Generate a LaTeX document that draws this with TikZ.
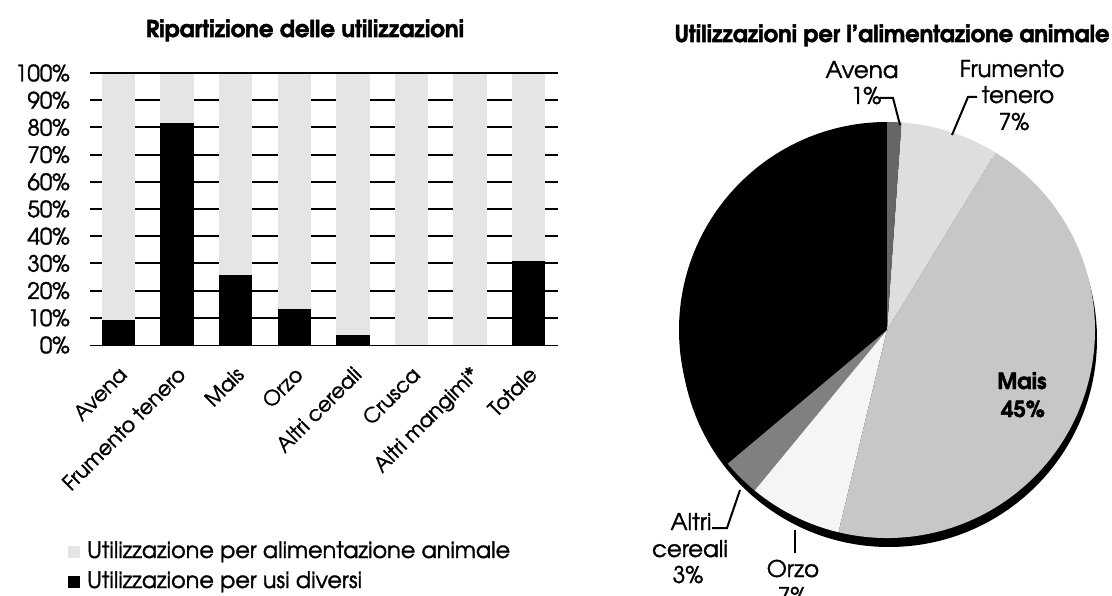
\documentclass[tikz,border=0pt]{standalone}
\usepackage{fontspec}
\setmainfont{texgyreadventor}[Extension=.otf,UprightFont=*-regular,BoldFont=*-bold,UprightFeatures={FakeBold=1.4},BoldFeatures={FakeBold=2.2}]
\usepackage{graphicx}
\newlength\legwidth
\begin{document}
\settowidth\legwidth{\fontsize{22.5}{22.5}\selectfont Utilizzazione per alimentazione animale}
\pgfmathsetmacro\legscale{423/\legwidth}
\begin{tikzpicture}[x=1pt,y=-1pt,
  ylab/.style={anchor=east, inner sep=0pt, font=\fontsize{22.5}{22.5}\selectfont},
  catlab/.style={anchor=north east, rotate=45, inner sep=0pt, font=\fontsize{20.5}{20.5}\selectfont},
  pielab/.style={anchor=base, inner sep=0pt, font=\fontsize{23}{23}\selectfont},
  piebold/.style={anchor=base, inner sep=0pt, font=\bfseries\fontsize{22}{22}\selectfont},
  legtext/.style={anchor=base west, inner sep=0pt, font=\fontsize{22.5}{22.5}\selectfont},
  titletext/.style={anchor=base, inner sep=0pt, font=\bfseries\fontsize{23}{23}\selectfont},
  gridline/.style={line width=2pt},
  leader/.style={line width=2pt},
  darkbar/.style={fill=black},
  lightbar/.style={fill=black!10},
]
\useasboundingbox (0,0) rectangle (1112,596);

% ---------- left chart ----------
\node[titletext] (t1) at (305,37) {\resizebox{318pt}{\height}{Ripartizione delle utilizzazioni}};

\foreach \k in {1,...,9} {
  \draw[gridline] (90,345-27.2*\k) -- (558,345-27.2*\k);
}
\foreach \i/\v in {0/9.3,1/81.6,2/25.8,3/13.4,4/3.6,5/0,6/0,7/31} {
  \pgfmathsetmacro{\cx}{118.5+58.6*\i}
  \fill[lightbar] (\cx-16.75,73) rectangle (\cx+16.75,345-2.72*\v);
  \fill[darkbar] (\cx-16.75,345-2.72*\v) rectangle (\cx+16.75,345);
}
\draw[line width=1.4pt] (90,73) -- (558,73);
\draw[line width=1pt] (90,345) -- (558,345);

\foreach \k in {0,...,10} {
  \pgfmathtruncatemacro{\p}{10*\k}
  \node[ylab] (y\k) at (70,345-27.2*\k) {\p\%};
}

\foreach \i/\t in {0/Avena,1/Frumento tenero,2/Mais,3/Orzo,4/Altri cereali,5/Crusca,6/Altri mangimi*,7/Totale} {
  \pgfmathsetmacro{\cx}{118.5+58.6*\i}
  \node[catlab] (c\i) at (\cx-1,365) {\t};
}

% legend
\fill[black!10] (68,546) rectangle (80,558);
\fill[black] (68,576) rectangle (80,588);
\node[legtext] (l1) at (87,558) {\scalebox{\legscale}[1]{Utilizzazione per alimentazione animale}};
\node[legtext] (l2) at (87,588) {\scalebox{\legscale}[1]{Utilizzazione per usi diversi}};

% ---------- pie chart ----------
\node[titletext] (t2) at (892,42) {\resizebox{435pt}{\height}{Utilizzazioni per l'alimentazione animale}};

\begin{scope}[shift={(887,330)}, yscale=-1]
  \fill[black] (2,-9) circle[radius=208];
  \fill[black] (0,0) -- (90:208) arc[start angle=90,end angle=220,radius=208] -- cycle;
  \fill[black!50] (0,0) -- (220:208) arc[start angle=220,end angle=230.5,radius=208] -- cycle;
  \fill[black!4] (0,0) -- (230.5:208) arc[start angle=230.5,end angle=256.5,radius=208] -- cycle;
  \fill[black!22] (0,0) -- (256.5:208) arc[start angle=256.5,end angle=418.5,radius=208] -- cycle;
  \fill[black!13] (0,0) -- (58.5:208) arc[start angle=58.5,end angle=86,radius=208] -- cycle;
  \fill[black!60] (0,0) -- (86:208) arc[start angle=86,end angle=90,radius=208] -- cycle;
\end{scope}

\node[pielab] (av1) at (862,78) {Avena};
\node[pielab] (av2) at (866,104) {1\%};
\node[pielab] (fr1) at (1012,77) {Frumento};
\node[pielab] (fr2) at (1018,103) {tenero};
\node[pielab] (fr3) at (1014,130) {7\%};
\node[piebold] (ma1) at (1022,389) {Mais};
\node[piebold] (ma2) at (1023,417) {45\%};
\node[pielab] (ac1) at (691,530) {Altri};
\node[pielab] (ac2) at (690,557) {cereali};
\node[pielab] (ac3) at (688,583) {3\%};
\node[pielab] (or1) at (793,577) {Orzo};
\node[pielab] (or2) at (793,604) {7\%};

\coordinate (avA) at (880,98);
\coordinate (avB) at (893,98);
\coordinate (avC) at (900,125);
\draw[leader] (avA) -- (avB) -- (avC);
\coordinate (frA) at (977,97);
\coordinate (frB) at (968,97);
\coordinate (frC) at (952,135);
\draw[leader] (frA) -- (frB) -- (frC);
\coordinate (acA) at (712,528);
\coordinate (acB) at (727,528);
\coordinate (acC) at (740,490);
\draw[leader] (acA) -- (acB) -- (acC);
\coordinate (orA) at (795,530);
\coordinate (orB) at (795,553);
\draw[leader] (orA) -- (orB);
\end{tikzpicture}
\end{document}
